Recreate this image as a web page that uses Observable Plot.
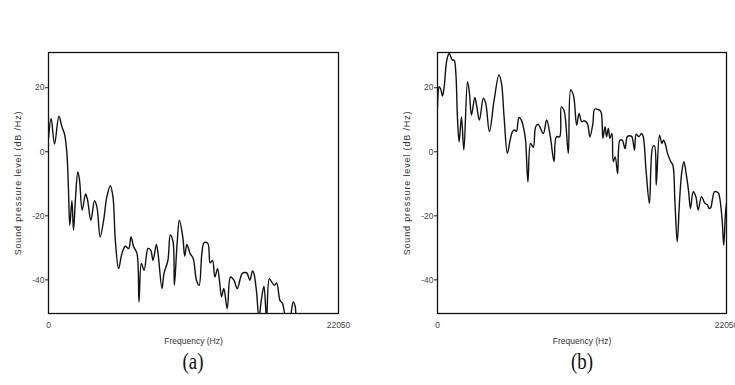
<!DOCTYPE html>
<html>
<head>
<meta charset="utf-8">
<script src="https://cdn.jsdelivr.net/npm/d3@7"></script>
<script src="https://cdn.jsdelivr.net/npm/@observablehq/plot@0.6"></script>
<style>
  html, body { margin: 0; padding: 0; background: #fff; }
  #wrap { position: relative; width: 735px; height: 385px; overflow: hidden; }
  .panel { position: absolute; top: 0; }
  .cap { position: absolute; top: 349px; font-family: "Liberation Serif", "DejaVu Serif", serif; font-size: 23px; color: #111; transform: translateX(-50%) scaleX(0.82); }
  g[aria-label="y-axis label"] text { font-size: 9px; letter-spacing: 0.85px; fill: #333; }
  g[aria-label="x-axis label"] text { font-size: 8.5px; fill: #333; }
  g[aria-label="y-axis tick label"] text, g[aria-label="x-axis tick label"] text { fill: #444; }
</style>
</head>
<body>
<div id="wrap">
  <div id="pa" class="panel" style="left:0px"></div>
  <div id="pb" class="panel" style="left:389px"></div>
  <div class="cap" style="left:193px">(a)</div>
  <div class="cap" style="left:582px">(b)</div>
</div>
<script>
// Frequency axis: 0 .. 22050 Hz (Nyquist at 44.1 kHz)
const xTicks = [0, 22050];
const yTicks = [-40, -20, 0, 20];
const yDomain = [-50.5, 31];
const xLabel = "Frequency (Hz)";
const yLabel = "Sound pressure level (dB /Hz)";
const captions = ["(a)", "(b)"];

// Panel (a): frequency (Hz) and level (dB/Hz)
const freqA = [0, 200, 460, 790, 1020, 1220, 1400, 1520, 1620, 1780, 1900, 2060, 2230, 2360, 2560, 2820, 2970, 3220, 3500, 3680, 3930, 4190, 4440, 4700, 4900, 5080, 5330, 5580, 5840, 6100, 6270, 6480, 6730, 6880, 7060, 7270, 7570, 7770, 7950, 8200, 8330, 8630, 8780, 9080, 9260, 9470, 9570, 9780, 9950, 10210, 10360, 10520, 10770, 11000, 11250, 11450, 11660, 11830, 12110, 12290, 12470, 12650, 12850, 13010, 13160, 13330, 13590, 13840, 14100, 14350, 14730, 14980, 15110, 15310, 15510, 15620, 15820, 16000, 16180, 16380, 16580, 16790, 16990, 17170, 17350, 17600, 17800, 18000, 18300, 18610, 18760, 18860, 19500, 22050];
const dbA   = [4.2, 10.4, 2.4, 11.1, 7.8, 5.5, -0.5, -12, -23, -15.3, -24.5, -14, -6.3, -8.9, -18.2, -13.2, -15.1, -21.4, -15.3, -17.2, -26.6, -21.4, -14, -10.6, -14, -27.6, -36.5, -31.8, -29.5, -30.2, -26.6, -29.7, -31.8, -46.9, -34.9, -37, -30.2, -30.7, -33.9, -28.9, -31.8, -42.7, -38, -33.9, -26, -28.1, -41.7, -28.6, -21.4, -26.6, -32.6, -28.9, -31.8, -33.3, -40.1, -41.7, -31.8, -28.4, -28.6, -34.7, -33.9, -39.1, -36.5, -40.6, -45.3, -42.7, -49, -39.1, -40.1, -42.7, -38, -37.7, -38, -40.1, -37.2, -38, -43.8, -52, -46.4, -42, -52, -39.6, -40.8, -41.7, -41, -46.4, -47.4, -51, -52.5, -46.9, -48.4, -53, -60, -62];

// Panel (b)
const freqB = [0, 130, 250, 380, 510, 710, 890, 1020, 1140, 1270, 1400, 1520, 1650, 1830, 2010, 2290, 2440, 2590, 2850, 3000, 3200, 3500, 3680, 3960, 4320, 4690, 4880, 5080, 5330, 5540, 5720, 5890, 6020, 6220, 6400, 6600, 6720, 6900, 7100, 7310, 7490, 7680, 8070, 8330, 8610, 8890, 9070, 9320, 9450, 9650, 9980, 10160, 10370, 10620, 10800, 11000, 11200, 11430, 11630, 11860, 11990, 12270, 12470, 12620, 12780, 12900, 13030, 13160, 13310, 13410, 13560, 13740, 13920, 14100, 14310, 14480, 14660, 14830, 15030, 15160, 15360, 15570, 15700, 15910, 16170, 16430, 16560, 16690, 16940, 17120, 17250, 17370, 17550, 17800, 17960, 18110, 18290, 18470, 18640, 18800, 18970, 19150, 19300, 19510, 19710, 19890, 20140, 20400, 20600, 20720, 20850, 20960, 21130, 21310, 21450, 21560, 21720, 21840, 21970, 22050];
const dbB   = [14, 20.3, 19.5, 17.4, 20.3, 28.6, 30.7, 29.6, 28.6, 28.6, 24.5, 10.9, 3.1, 10.9, 0.5, 21.9, 18.2, 11.5, 17, 14, 9.9, 16.7, 15.1, 6.3, 16.1, 24, 21.4, 10.9, -0.5, 3.6, 6.3, 6.8, 6.3, 10.7, 9.9, 6.8, 3.6, -9.4, 2.6, 1.4, 7.8, 8.6, 5.7, 9.9, 4.7, -3.1, 4.7, 4.7, 14, 13, -0.5, 19.3, 17.7, 8.3, 12, 9.4, 9.7, 8.9, 4.7, 8.9, 13.3, 13.2, 12.5, 4.2, 7.8, 4.7, 7.3, 4.2, 5.7, -3.1, -1.6, -6.8, 3.6, 3.6, 1, 4.7, 5, 4.7, 0.5, 5.5, 4.7, 5.7, 4.7, -5.7, -16.1, 1.6, 1.8, -10.4, 5.2, 2.6, 3.6, 2.6, -0.5, -3.1, -4.2, -15.1, -28.1, -15.1, -6.3, -3.1, -6.8, -12, -17.7, -12.5, -14, -18.2, -14, -16.1, -16.6, -17.7, -17.4, -15.3, -12.5, -12.5, -13, -15.1, -21.4, -29.2, -19.3, -16.1, -16.4, -16.6];

const font = '"Liberation Sans Narrow", "Liberation Sans", Arial, sans-serif';

function panel(freqs, dbs, width, marginLeft, marginRight) {
  const data = freqs.map((f, i) => ({f, db: dbs[i]}));
  return Plot.plot({
    width, height: 352,
    marginTop: 52, marginBottom: 39, marginLeft, marginRight,
    style: {fontFamily: font, fontSize: "8.5px", color: "#222", background: "transparent", overflow: "visible"},
    x: {domain: [0, 22050]},
    y: {domain: yDomain},
    marks: [
      Plot.line(data, {x: "f", y: "db", stroke: "#111", strokeWidth: 1.4, curve: "catmull-rom", clip: true}),
      Plot.frame({stroke: "#111", strokeWidth: 1.3}),
      Plot.axisY({ticks: yTicks, tickSize: 3, tickPadding: 1, tickFormat: d => String(d),
        label: yLabel, labelAnchor: "center", labelArrow: "none", labelOffset: 34}),
      Plot.axisX({ticks: xTicks, tickSize: 0, tickPadding: 8, tickFormat: d => String(d),
        label: xLabel, labelAnchor: "center", labelArrow: "none", labelOffset: 30})
    ]
  });
}

document.getElementById("pa").appendChild(panel(freqA, dbA, 367, 48, 29));
document.getElementById("pb").appendChild(panel(freqB, dbB, 346, 48, 9));
</script>
</body>
</html>
